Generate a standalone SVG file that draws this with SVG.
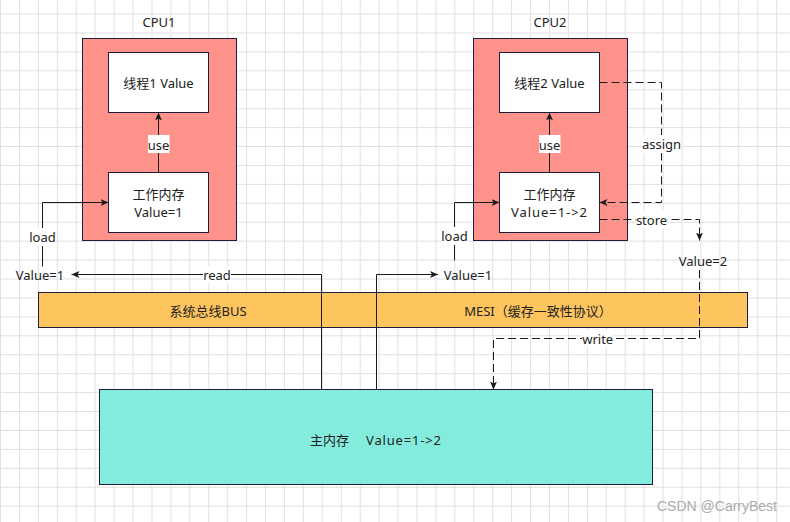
<svg xmlns="http://www.w3.org/2000/svg" width="790" height="522" viewBox="0 0 790 522">
<style>
.t{font-family:"Noto Sans","Noto Sans CJK SC",sans-serif;font-size:13px;fill:#222;text-anchor:middle}
.box{stroke:#1c1c3c;stroke-width:1}
.cpu{fill:#FF928A}
.w{fill:#fff}
.bus{fill:#FEC55E}
.mem{fill:#84ECDC}
.c{fill:none;stroke:#1a1a1a;stroke-width:1}
.d{stroke-dasharray:8 4}
.lb{fill:#fff}
.wm{font-family:"Liberation Sans",Arial,sans-serif;font-size:14px;fill:#ababab}
</style>
<defs>
<pattern id="grid" width="18.93" height="18.93" patternUnits="userSpaceOnUse" x="0" y="13.5">
<path d="M0.5 0V18.93M0 0.5H18.93" stroke="#e0e0e0" stroke-width="1" fill="none"/>
</pattern>
<marker id="arr" markerUnits="userSpaceOnUse" markerWidth="8" markerHeight="7" viewBox="0 0 8 7" refX="8" refY="3.5" orient="auto">
<path d="M0,0 L8,3.5 L0,7 L2,3.5 Z" fill="#1a1a1a" stroke="none"/>
</marker>
</defs>
<rect width="790" height="522" fill="#fff"/>
<rect width="790" height="522" fill="url(#grid)"/>

<g id="cpu1">
<rect class="box cpu" x="82.5" y="38.5" width="154" height="202"/>
<text class="t" x="159" y="27.3">CPU1</text>
</g>
<g id="cpu2">
<rect class="box cpu" x="473.5" y="38.5" width="154" height="202"/>
<text class="t" x="550" y="27.3">CPU2</text>
</g>
<g id="bus">
<rect class="box bus" x="38.5" y="292.5" width="709" height="35"/>
<text class="t" x="208" y="315.5">系统总线BUS</text>
<text class="t" x="538" y="315.5">MESI（缓存一致性协议）</text>
</g>
<g id="mainmem">
<rect class="box mem" x="99.5" y="389.5" width="553" height="95"/>
<text class="t" y="444.5" style="text-anchor:start"><tspan x="310">主内存</tspan><tspan x="366" textLength="75" lengthAdjust="spacing">Value=1-&gt;2</tspan></text>
</g>

<g id="connectors">
<path class="c" d="M158.5 172.5V112.5" marker-end="url(#arr)"/>
<path class="c" d="M549.5 172.5V112.5" marker-end="url(#arr)"/>
<path class="c" d="M42.5 266.5V202.5H108.5" marker-end="url(#arr)"/>
<path class="c" d="M321.5 389.5V274.5H71.5" marker-end="url(#arr)"/>
<path class="c" d="M376.5 389.5V274.5H438" marker-end="url(#arr)"/>
<path class="c" d="M454.5 260.5V202.5H499.5" marker-end="url(#arr)"/>
<path class="c d" d="M599.5 82.5H661.5V202.5H599.5" marker-end="url(#arr)"/>
<path class="c d" d="M599.5 219.5H699.5V240.5" marker-end="url(#arr)"/>
<path class="c d" d="M699.5 270V338.5H493.5V389.5" marker-end="url(#arr)"/>
<rect class="lb" x="148" y="135" width="21.5" height="18"/>
<text class="t" x="158.5" y="149.5">use</text>
<rect class="lb" x="539" y="135" width="21.5" height="18"/>
<text class="t" x="549.5" y="149.5">use</text>
<rect class="lb" x="29" y="228" width="27" height="18"/>
<text class="t" x="42.5" y="242">load</text>
<rect class="lb" x="441" y="227" width="27" height="18"/>
<text class="t" x="454.5" y="241">load</text>
<rect class="lb" x="203" y="266" width="28" height="17"/>
<text class="t" x="217" y="280">read</text>
<rect class="lb" x="642" y="135" width="39" height="18"/>
<text class="t" x="661.5" y="149.3">assign</text>
<rect class="lb" x="636" y="211" width="31.5" height="17"/>
<text class="t" x="651.5" y="225">store</text>
<rect class="lb" x="582" y="330" width="31.5" height="17"/>
<text class="t" x="597.7" y="344">write</text>
</g>

<g id="thread1">
<rect class="box w" x="108.5" y="52.5" width="100" height="60"/>
<text class="t" x="158.5" y="87.5">线程1 Value</text>
</g>
<g id="work1">
<rect class="box w" x="108.5" y="172.5" width="100" height="60"/>
<text class="t" x="158.5" y="198.5">工作内存</text>
<text class="t" x="158.5" y="216.8">Value=1</text>
</g>
<g id="thread2">
<rect class="box w" x="499.5" y="52.5" width="100" height="60"/>
<text class="t" x="549.5" y="87.5">线程2 Value</text>
</g>
<g id="work2">
<rect class="box w" x="499.5" y="172.5" width="100" height="60"/>
<text class="t" x="549.5" y="198.5">工作内存</text>
<text class="t" x="549" y="216.8" textLength="76" lengthAdjust="spacing">Value=1-&gt;2</text>
</g>
<g id="val1a">
<text class="t" x="40" y="280">Value=1</text>
</g>
<g id="val1b">
<text class="t" x="468" y="280">Value=1</text>
</g>
<g id="val2">
<text class="t" x="703" y="266">Value=2</text>
</g>
<text class="wm" x="657" y="510.5">CSDN @CarryBest</text>
</svg>
